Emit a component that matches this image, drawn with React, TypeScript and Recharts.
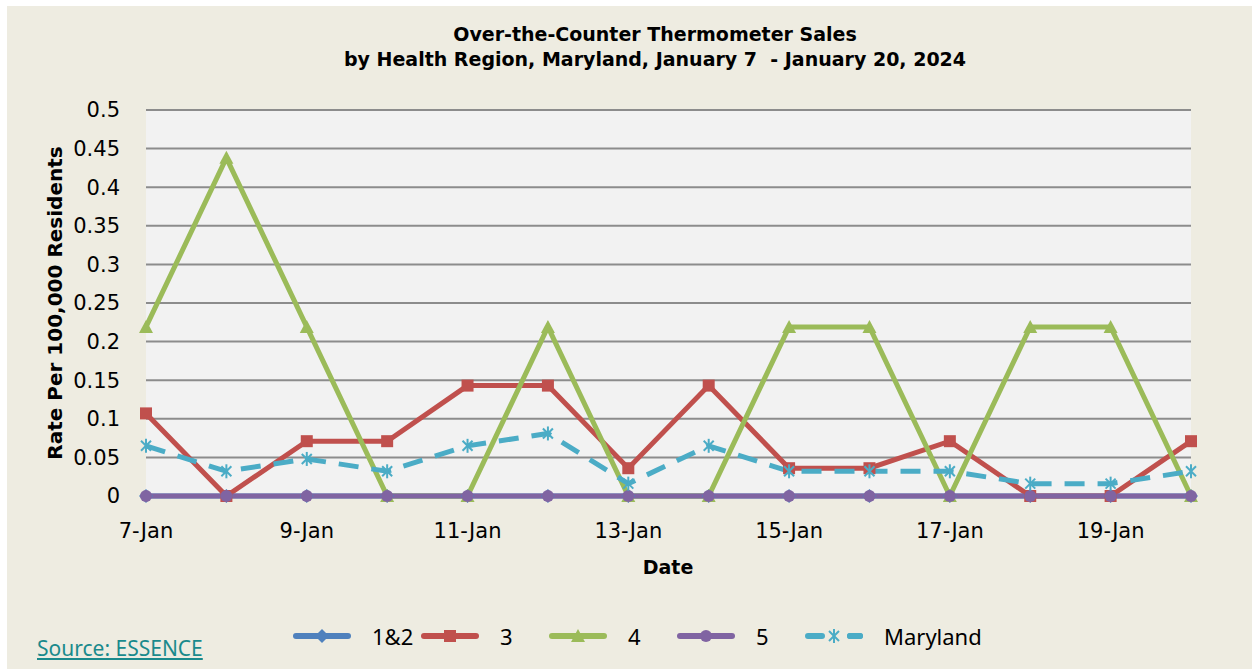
import { LineChart, Line, XAxis, YAxis, CartesianGrid } from "recharts";

const DATES = [
  "7-Jan", "8-Jan", "9-Jan", "10-Jan", "11-Jan", "12-Jan", "13-Jan",
  "14-Jan", "15-Jan", "16-Jan", "17-Jan", "18-Jan", "19-Jan", "20-Jan",
];
const REGION_12 = [0, 0, 0, 0, 0, 0, 0, 0, 0, 0, 0, 0, 0, 0];
const REGION_3 = [0.107, 0, 0.071, 0.071, 0.143, 0.143, 0.036, 0.143, 0.036, 0.036, 0.071, 0, 0, 0.071];
const REGION_4 = [0.219, 0.438, 0.219, 0, 0, 0.219, 0, 0, 0.219, 0.219, 0, 0.219, 0.219, 0];
const REGION_5 = [0, 0, 0, 0, 0, 0, 0, 0, 0, 0, 0, 0, 0, 0];
const MARYLAND = [0.065, 0.032, 0.048, 0.032, 0.065, 0.081, 0.016, 0.065, 0.032, 0.032, 0.032, 0.016, 0.016, 0.032];
const Y_TICKS = [0, 0.05, 0.1, 0.15, 0.2, 0.25, 0.3, 0.35, 0.4, 0.45, 0.5];

const data = DATES.map((date, i) => ({
  date,
  r12: REGION_12[i],
  r3: REGION_3[i],
  r4: REGION_4[i],
  r5: REGION_5[i],
  md: MARYLAND[i],
}));

const FONT = "'Noto Sans', sans-serif";
const WIDE = "'DejaVu Sans', sans-serif";
const GRID = "#8c8c8c";

type Shape = "diamond" | "square" | "triangle" | "circle" | "star";

const SERIES: { key: string; name: string; color: string; shape: Shape; dash?: string }[] = [
  { key: "r12", name: "1&2", color: "#4F81BD", shape: "diamond" },
  { key: "r3", name: "3", color: "#C0504D", shape: "square" },
  { key: "r4", name: "4", color: "#9BBB59", shape: "triangle" },
  { key: "r5", name: "5", color: "#8064A2", shape: "circle" },
  { key: "md", name: "Maryland", color: "#4BACC6", shape: "star", dash: "20 13" },
];

function Marker({ shape, color, cx, cy }: { shape: Shape; color: string; cx: number; cy: number }) {
  if (shape === "square") return <rect x={cx - 6} y={cy - 6} width={12} height={12} fill={color} />;
  if (shape === "circle") return <circle cx={cx} cy={cy} r={6} fill={color} />;
  if (shape === "diamond")
    return <polygon points={`${cx},${cy - 7} ${cx + 7},${cy} ${cx},${cy + 7} ${cx - 7},${cy}`} fill={color} />;
  if (shape === "triangle")
    return <polygon points={`${cx},${cy - 7} ${cx + 7},${cy + 6} ${cx - 7},${cy + 6}`} fill={color} />;
  return (
    <g stroke={color} strokeWidth={2}>
      <line x1={cx - 5} y1={cy - 5} x2={cx + 5} y2={cy + 5} />
      <line x1={cx - 5} y1={cy + 5} x2={cx + 5} y2={cy - 5} />
      <line x1={cx} y1={cy - 7} x2={cx} y2={cy + 7} />
    </g>
  );
}

export default function App() {
  return (
    <div style={{ position: "absolute", left: 0, top: 0, width: 1252, height: 669, background: "#fff", fontFamily: FONT }}>
      <div style={{ position: "absolute", left: 7, top: 6, width: 1245, height: 663, background: "#EEECE1" }} />

      <div style={{ position: "absolute", left: 0, top: 22, width: 1310, textAlign: "center", fontFamily: WIDE, fontWeight: 700, fontSize: 19, lineHeight: "25px", color: "#000" }}>
        Over-the-Counter Thermometer Sales
        <br />
        by Health Region, Maryland, January 7&nbsp; - January 20, 2024
      </div>

      <div style={{ position: "absolute", left: 0, top: 0 }}>
        <LineChart width={1252} height={669} data={data} margin={{ top: 110, right: 61, bottom: 143, left: 46 }}>
          <CartesianGrid vertical={false} stroke={GRID} strokeWidth={2} fill="#F2F2F2" fillOpacity={1} />
          <XAxis
            dataKey="date"
            interval={1}
            axisLine={false}
            tickLine={false}
            height={30}
            tickMargin={21}
            tick={{ fontSize: 21, fill: "#000", fontFamily: WIDE }}
          />
          <YAxis
            domain={[0, 0.5]}
            ticks={Y_TICKS}
            width={100}
            axisLine={false}
            tickLine={false}
            tickMargin={20}
            tick={{ fontSize: 21, fill: "#000", fontFamily: WIDE }}
          />
          {SERIES.map((s) => (
            <Line
              key={s.key}
              type="linear"
              dataKey={s.key}
              name={s.name}
              stroke={s.color}
              strokeWidth={5}
              strokeDasharray={s.dash}
              isAnimationActive={false}
              activeDot={false}
              dot={(p: any) => <Marker key={`${s.key}-${p.index}`} shape={s.shape} color={s.color} cx={p.cx} cy={p.cy} />}
            />
          ))}
        </LineChart>
      </div>

      <div style={{ position: "absolute", left: 55, top: 303, transform: "translate(-50%, -50%) rotate(-90deg)", whiteSpace: "nowrap", fontFamily: WIDE, fontWeight: 700, fontSize: 20, color: "#000" }}>
        Rate Per 100,000 Residents
      </div>

      <div style={{ position: "absolute", left: 668, top: 567, transform: "translate(-50%, -50%)", fontFamily: WIDE, fontWeight: 700, fontSize: 19, color: "#000" }}>
        Date
      </div>

      <div style={{ position: "absolute", left: 37, top: 634, fontSize: 21, color: "#1A8A8C", textDecoration: "underline" }}>
        Source: ESSENCE
      </div>

      <div style={{ position: "absolute", left: 293, top: 622, display: "flex", alignItems: "center", height: 28 }}>
        {SERIES.map((s) => (
          <div key={s.key} style={{ display: "flex", alignItems: "center", width: s.key === "md" ? "auto" : 128 }}>
            <svg width={58} height={20}>
              <line x1={3} y1={10} x2={55} y2={10} stroke={s.color} strokeWidth={6} strokeLinecap="round" strokeDasharray={s.dash ? "14 28" : undefined} />
              {s.dash && <line x1={45} y1={10} x2={55} y2={10} stroke={s.color} strokeWidth={6} strokeLinecap="round" />}
              <Marker shape={s.shape} color={s.color} cx={29} cy={10} />
            </svg>
            <span style={{ marginLeft: 21, fontSize: 22, color: "#000" }}>{s.name}</span>
          </div>
        ))}
      </div>
    </div>
  );
}
